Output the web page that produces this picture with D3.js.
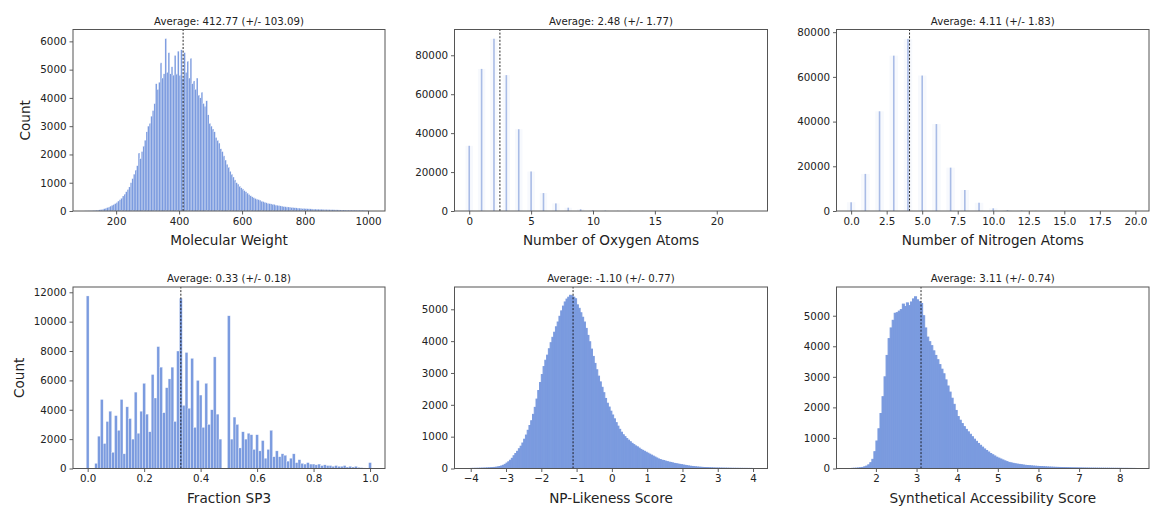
<!DOCTYPE html>
<html>
<head>
<meta charset="utf-8">
<script src="https://cdn.jsdelivr.net/npm/d3@7"></script>
<style>
  body { margin: 0; background: #fff; }
  svg { display: block; }
  text { font-family: "DejaVu Sans", sans-serif; fill: #222; }
</style>
</head>
<body>
<script>
// ---- data ----

// molecular weight, bins of 5 starting at 100
const mwStart = 100, mwBin = 5;
const mwCounts = [
  5, 5, 8, 10, 12, 15, 20, 25, 30, 40,
  50, 60, 80, 100, 120, 140, 170, 200, 230, 260,
  300, 350, 400, 460, 530, 600, 680, 760, 850, 1000,
  1150, 1300, 1450, 1600, 2050, 1850, 2100, 2300, 2500, 2800,
  3000, 3100, 3350, 3550, 3800, 4500, 4300, 4550, 5240, 4700,
  4850, 6100, 4900, 5600, 4850, 5100, 4800, 5500, 4850, 5650,
  4800, 5700, 4700, 5600, 4900, 5300, 4700, 5400, 4500, 4600,
  4300, 4700, 4100, 4000, 4200, 3800, 3700, 3900, 3400, 3100,
  3000, 2900, 2800, 2600, 2500, 2400, 2200, 2100, 1950, 1800,
  1650, 1550, 1400, 1300, 1200, 1100, 1000, 950, 880, 820,
  780, 720, 680, 630, 580, 540, 500, 470, 440, 420,
  400, 380, 350, 330, 310, 290, 270, 260, 250, 240,
  230, 210, 200, 190, 180, 170, 160, 150, 145, 140,
  135, 130, 120, 115, 110, 105, 100, 95, 90, 88,
  85, 80, 78, 75, 72, 70, 68, 65, 62, 60,
  58, 56, 54, 52, 50, 48, 46, 45, 44, 42,
  40, 38, 36, 35, 34, 33, 32, 31, 30, 29,
  28, 27, 26, 25, 24, 23, 22, 21, 20, 18,
  10
];

// oxygen / nitrogen atom counts, one value per integer from 0
const oxygenCounts = [33500, 73000, 88500, 69800, 42000, 20300, 9200, 3900, 1700, 900,
  400, 200, 100, 60, 40, 25, 15, 10, 6, 4, 3, 2, 1, 1];
const nitrogenCounts = [3900, 16600, 44600, 69500, 77000, 60600, 38900, 19400, 9400, 3700,
  1200, 400, 150, 60, 30, 15, 8, 5, 3, 2, 2];

// fraction sp3, bins of 0.01 centred on 0.00 .. 1.00
const sp3Start = -0.005, sp3Bin = 0.01;
const sp3Counts = [
  11750, 0, 0, 350, 2200, 4700, 1700, 3200, 3900, 1100,
  3600, 2600, 4700, 1000, 4200, 3400, 2000, 5200, 2400, 3900,
  5800, 3700, 2500, 6400, 4800, 8300, 6900, 3800, 5500, 6100,
  6900, 3200, 8000, 11600, 4300, 7900, 4100, 7500, 2800, 6000,
  5000, 2800, 5800, 3000, 4000, 7600, 3700, 2000, 0, 0,
  10400, 2000, 3500, 3000, 1400, 2500, 2000, 2400, 2300, 1300,
  2300, 1200, 1900, 700, 1300, 2600, 800, 1200, 800, 1000,
  900, 500, 700, 1000, 400, 600, 350, 300, 400, 300,
  300, 250, 300, 200, 250, 200, 200, 150, 200, 150,
  150, 200, 100, 150, 100, 150, 80, 60, 40, 30,
  400
];

// np-likeness, bins of 0.05 from -4
const npStart = -4, npBin = 0.05;
const npCounts = [
  3, 4, 5, 6, 7, 9, 11, 13, 15, 18,
  20, 24, 28, 34, 40, 50, 62, 80, 100, 130,
  170, 210, 260, 320, 400, 470, 540, 620, 700, 800,
  920, 1050, 1200, 1350, 1500, 1700, 1920, 2180, 2450, 2700,
  2950, 3200, 3400, 3560, 3760, 3950, 4120, 4280, 4450, 4600,
  4780, 4950, 5100, 5230, 5320, 5380, 5440, 5420, 5380, 5330,
  5140, 5030, 4890, 4750, 4600, 4400, 4180, 3980, 3750, 3520,
  3300, 3100, 2900, 2720, 2550, 2380, 2200, 2050, 1930, 1800,
  1680, 1560, 1440, 1330, 1230, 1140, 1060, 1000, 940, 890,
  840, 790, 750, 710, 680, 640, 600, 570, 540, 510,
  480, 450, 420, 390, 360, 330, 300, 280, 260, 250,
  230, 215, 200, 190, 175, 160, 150, 140, 130, 120,
  110, 100, 90, 80, 72, 65, 58, 52, 47, 42,
  38, 34, 31, 28, 25, 22, 20, 18, 16, 15,
  14, 13, 12, 11, 10, 9, 8, 7, 6, 6,
  5, 5, 4, 4, 3, 3, 3, 2, 2, 2
];

// synthetic accessibility, bins of 0.05 from 1.4
const saStart = 1.4, saBin = 0.05;
const saCounts = [
  5, 8, 12, 18, 25, 35, 55, 80, 120, 190,
  300, 550, 900, 1300, 1800, 2350, 3000, 3700, 4250, 4600,
  4850, 5080, 5100, 5150, 5200, 5380, 5300, 5420, 5330, 5450,
  5550, 5620, 5520, 5460, 5400, 5000, 4600, 4300, 4150, 4020,
  3850, 3700, 3560, 3400, 3250, 3100, 2900, 2700, 2500, 2300,
  2100, 1900, 1700, 1580, 1470, 1370, 1280, 1200, 1120, 1040,
  960, 890, 820, 760, 700, 640, 590, 540, 490, 450,
  410, 370, 340, 310, 280, 250, 225, 200, 185, 170,
  155, 145, 135, 125, 115, 105, 98, 92, 86, 80,
  75, 70, 66, 62, 58, 54, 50, 47, 44, 41,
  38, 36, 34, 32, 30, 28, 26, 24, 22, 21,
  20, 19, 18, 17, 16, 15, 14, 13, 12, 12,
  11, 10, 10, 9, 9, 8, 8, 7, 7, 6,
  6, 5, 5, 4, 4, 4, 3, 3, 2, 2
];

const means = [412.77, 2.48, 4.11, 0.33, -1.10, 3.11];
const stds = [103.09, 1.77, 1.83, 0.18, 0.77, 0.74];
const xLabels = ["Molecular Weight", "Number of Oxygen Atoms", "Number of Nitrogen Atoms",
  "Fraction SP3", "NP-Likeness Score", "Synthetical Accessibility Score"];

const xTicks = [
  [200, 400, 600, 800, 1000],
  [0, 5, 10, 15, 20],
  [0, 2.5, 5, 7.5, 10, 12.5, 15, 17.5, 20],
  [0, 0.2, 0.4, 0.6, 0.8, 1.0],
  [-4, -3, -2, -1, 0, 1, 2, 3, 4],
  [2, 3, 4, 5, 6, 7, 8]
];
const yTicks = [
  [0, 1000, 2000, 3000, 4000, 5000, 6000],
  [0, 20000, 40000, 60000, 80000],
  [0, 20000, 40000, 60000, 80000],
  [0, 2000, 4000, 6000, 8000, 10000, 12000],
  [0, 1000, 2000, 3000, 4000, 5000],
  [0, 1000, 2000, 3000, 4000, 5000]
];

// ---- layout ----
const W = 1150, H = 507;
const cols = [[73, 385], [454.5, 767.5], [836.5, 1149]];
const rows = [[29.5, 211], [287, 468.5]];

const barColor = "#7b9bdf";

const panels = [
  { kind: "bins", counts: mwCounts, start: mwStart, bin: mwBin, xd: [63, 1054], yd: [0, 6420],
    fmt: d3.format("d"), stroke: "#fff", sw: 0.3, so: 0.5 },
  { kind: "int", counts: oxygenCounts, xd: [-1.19, 24.1], yd: [0, 93240], fmt: d3.format("d") },
  { kind: "int", counts: nitrogenCounts, xd: [-1.03, 20.96], yd: [0, 81200], fmt: d3.format(".1f") },
  { kind: "bins", counts: sp3Counts, start: sp3Start, bin: sp3Bin, xd: [-0.052, 1.053], yd: [0, 12360],
    fmt: d3.format(".1f"), stroke: "#fff", sw: 0.5, so: 0.6 },
  { kind: "bins", counts: npCounts, start: npStart, bin: npBin, xd: [-4.46, 4.41], yd: [0, 5700],
    fmt: d => d < 0 ? "\u2212" + Math.abs(d) : String(d), stroke: barColor, sw: 1, so: 1 },
  { kind: "bins", counts: saCounts, start: saStart, bin: saBin, xd: [1.03, 8.72], yd: [0, 5940],
    fmt: d3.format("d"), stroke: barColor, sw: 1, so: 1 }
];

const svg = d3.select("body").append("svg")
  .attr("width", W)
  .attr("height", H);

panels.forEach(function(p, i) {
  const [x0, x1] = cols[i % 3];
  const [y0, y1] = rows[Math.floor(i / 3)];

  const x = d3.scaleLinear().domain(p.xd).range([x0, x1]);
  const y = d3.scaleLinear().domain(p.yd).range([y1, y0]);

  const g = svg.append("g");
  const clipId = "clip" + i;
  g.append("clipPath").attr("id", clipId)
    .append("rect").attr("x", x0).attr("y", y0).attr("width", x1 - x0).attr("height", y1 - y0);

  const bars = g.append("g").attr("clip-path", "url(#" + clipId + ")");

  if (p.kind === "bins") {
    bars.selectAll("rect").data(p.counts).enter()
      .append("rect")
        .attr("x", (d, k) => x(p.start + k * p.bin))
        .attr("width", (d, k) => x(p.start + (k + 1) * p.bin) - x(p.start + k * p.bin))
        .attr("y", d => y(d))
        .attr("height", d => y(0) - y(d))
        .attr("fill", barColor)
        .attr("stroke", p.stroke)
        .attr("stroke-width", p.sw)
        .attr("stroke-opacity", p.so);
  } else {
    // faint halo then thin line, like the discrete bars in the picture
    bars.selectAll("rect.halo").data(p.counts).enter()
      .append("rect").attr("class", "halo")
        .attr("x", (d, k) => x(k - 0.3))
        .attr("width", (d, k) => x(k + 0.3) - x(k - 0.3))
        .attr("y", d => y(d))
        .attr("height", d => y(0) - y(d))
        .attr("fill", "#f7f9fd");
    bars.selectAll("rect.bar").data(p.counts).enter()
      .append("rect").attr("class", "bar")
        .attr("x", (d, k) => x(k) - 0.8)
        .attr("width", 1.6)
        .attr("y", d => y(d))
        .attr("height", d => y(0) - y(d))
        .attr("fill", "#a9bce6");
  }

  // mean line
  g.append("line")
    .attr("x1", x(means[i])).attr("x2", x(means[i]))
    .attr("y1", y1).attr("y2", y0)
    .attr("stroke", "#111")
    .attr("stroke-width", 0.9)
    .attr("stroke-dasharray", "2,1.6");

  // axes
  const xa = g.append("g").attr("transform", "translate(0," + y1 + ")")
    .call(d3.axisBottom(x).tickValues(xTicks[i]).tickFormat(p.fmt).tickSize(3.5).tickPadding(3));
  const ya = g.append("g").attr("transform", "translate(" + x0 + ",0)")
    .call(d3.axisLeft(y).tickValues(yTicks[i]).tickFormat(d3.format("d")).tickSize(3.5).tickPadding(3));
  [xa, ya].forEach(a => {
    a.select(".domain").remove();
    a.selectAll("line").attr("stroke", "#333").attr("stroke-width", 0.8);
    a.selectAll("text").attr("font-size", "10.3px").attr("fill", "#222")
      .attr("font-family", "DejaVu Sans, sans-serif");
  });

  // frame
  g.append("rect")
    .attr("x", x0).attr("y", y0)
    .attr("width", x1 - x0).attr("height", y1 - y0)
    .attr("fill", "none")
    .attr("stroke", "#555")
    .attr("stroke-width", 1);

  // title (plain hyphen minus, as in the picture)
  g.append("text")
    .attr("x", (x0 + x1) / 2)
    .attr("y", y0 - 5)
    .attr("text-anchor", "middle")
    .attr("font-size", "10.2px")
    .text("Average: " + means[i].toFixed(2) + " (+/- " + stds[i].toFixed(2) + ")");

  // x label
  g.append("text")
    .attr("x", (x0 + x1) / 2)
    .attr("y", y1 + 34)
    .attr("text-anchor", "middle")
    .attr("font-size", "13.6px")
    .text(xLabels[i]);

  // y label on the left column only
  if (i % 3 === 0) {
    const lx = i === 0 ? 25 : 19.5;
    g.append("text")
      .attr("transform", "translate(" + lx + "," + ((y0 + y1) / 2) + ") rotate(-90)")
      .attr("text-anchor", "middle")
      .attr("dy", "0.35em")
      .attr("font-size", "13.6px")
      .text("Count");
  }
});
</script>
</body>
</html>
